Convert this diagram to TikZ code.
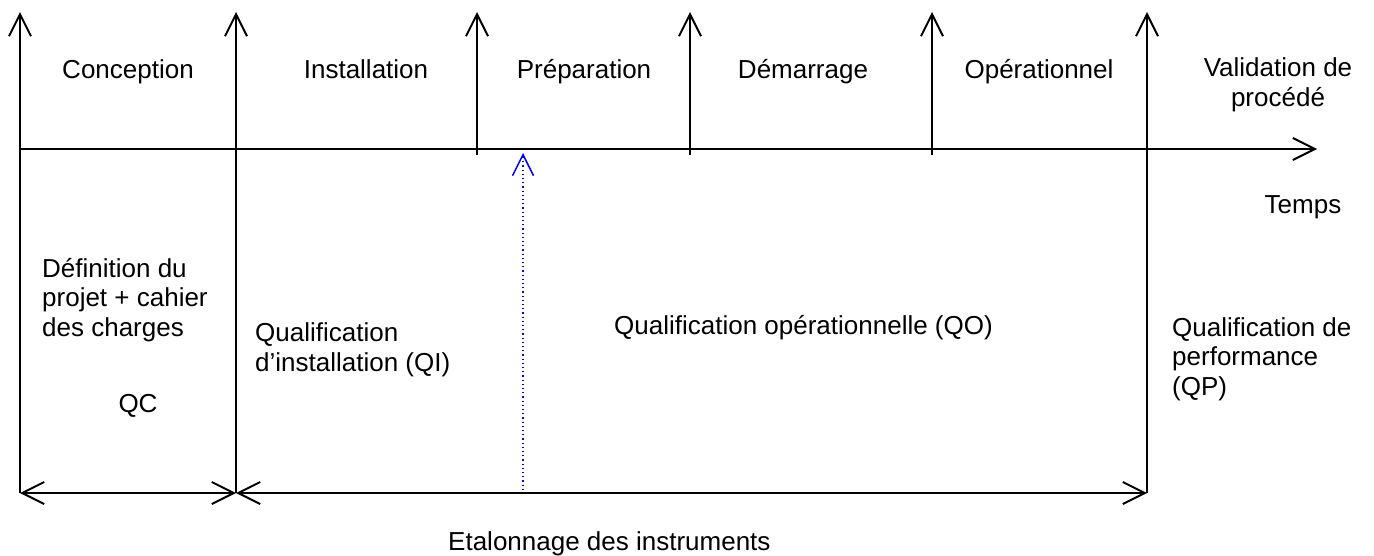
\documentclass[tikz,border=0pt]{standalone}
\usepackage{fontspec}
\setmainfont{Liberation Sans}
\usetikzlibrary{arrows.meta}
\begin{document}
\begin{tikzpicture}[x=1pt,y=-1pt,
  ln/.style={line width=2pt, black},
  barb/.tip={Straight Barb[length=22pt,width=22pt,line width=2pt]},
  tipend/.style={-{barb}},
  tipboth/.style={{barb}-{barb}},
  bluearrow/.style={line width=1.5pt, color={rgb,255:red,0;green,0;blue,255}, dash pattern=on 1.3pt off 2.9pt,
    -{Straight Barb[length=21pt,width=21pt,line width=1.5pt]}},
  lbl/.style={inner sep=0pt, font=\fontsize{26}{29.5}\selectfont},
  ]
\useasboundingbox[fill=white] (0,0) rectangle (1374,555);

% coordinates
\coordinate (b0) at (20,493);   \coordinate (t0) at (20,12);
\coordinate (b1) at (236,493);  \coordinate (t1) at (236,12);
\coordinate (b4) at (1147,493); \coordinate (t4) at (1147,12);
\coordinate (s1) at (477,155);  \coordinate (u1) at (477,12);
\coordinate (s2) at (690,155);  \coordinate (u2) at (690,12);
\coordinate (s3) at (932,155);  \coordinate (u3) at (932,12);
\coordinate (tl0) at (20,149);  \coordinate (tl1) at (1317,149);
\coordinate (bl0) at (523,490); \coordinate (bl1) at (523,153);

% vertical phase arrows
\draw[ln,tipend] (b0) -- (t0);
\draw[ln,tipend] (b1) -- (t1);
\draw[ln,tipend] (s1) -- (u1);
\draw[ln,tipend] (s2) -- (u2);
\draw[ln,tipend] (s3) -- (u3);
\draw[ln,tipend] (b4) -- (t4);

% time axis
\draw[ln,tipend] (tl0) -- (tl1);

% bottom double arrows
\draw[ln,tipboth] (b0) -- (b1);
\draw[ln,tipboth] (b1) -- (b4);

% calibration arrow
\draw[bluearrow] (bl0) -- (bl1);

% labels (multi-line nodes: base = last line)
\node[lbl,anchor=base] (conc) at (128,78) {Conception};
\node[lbl,anchor=base] (inst) at (366,78) {Installation};
\node[lbl,anchor=base] (prep) at (584,78) {Préparation};
\node[lbl,anchor=base] (dem) at (803,78) {Démarrage};
\node[lbl,anchor=base] (oper) at (1039,78) {Opérationnel};
\node[lbl,anchor=base,align=center] (valid) at (1278,106) {Validation de\\procédé};
\node[lbl,anchor=base] (temps) at (1303,213) {Temps};

\node[lbl,anchor=base west,align=left] (def) at (42,336) {Définition du\\projet + cahier\\des charges};
\node[lbl,anchor=base] (qc) at (138,412) {QC};
\node[lbl,anchor=base west,align=left] (qi) at (255,371) {Qualification\\d’installation (QI)};
\node[lbl,anchor=base west] (qo) at (614,334) {Qualification opérationnelle (QO)};
\node[lbl,anchor=base west,align=left] (qp) at (1172,395) {Qualification de\\performance\\(QP)};
\node[lbl,anchor=base west] (etal) at (448,550) {Etalonnage des instruments};
\end{tikzpicture}
\end{document}
